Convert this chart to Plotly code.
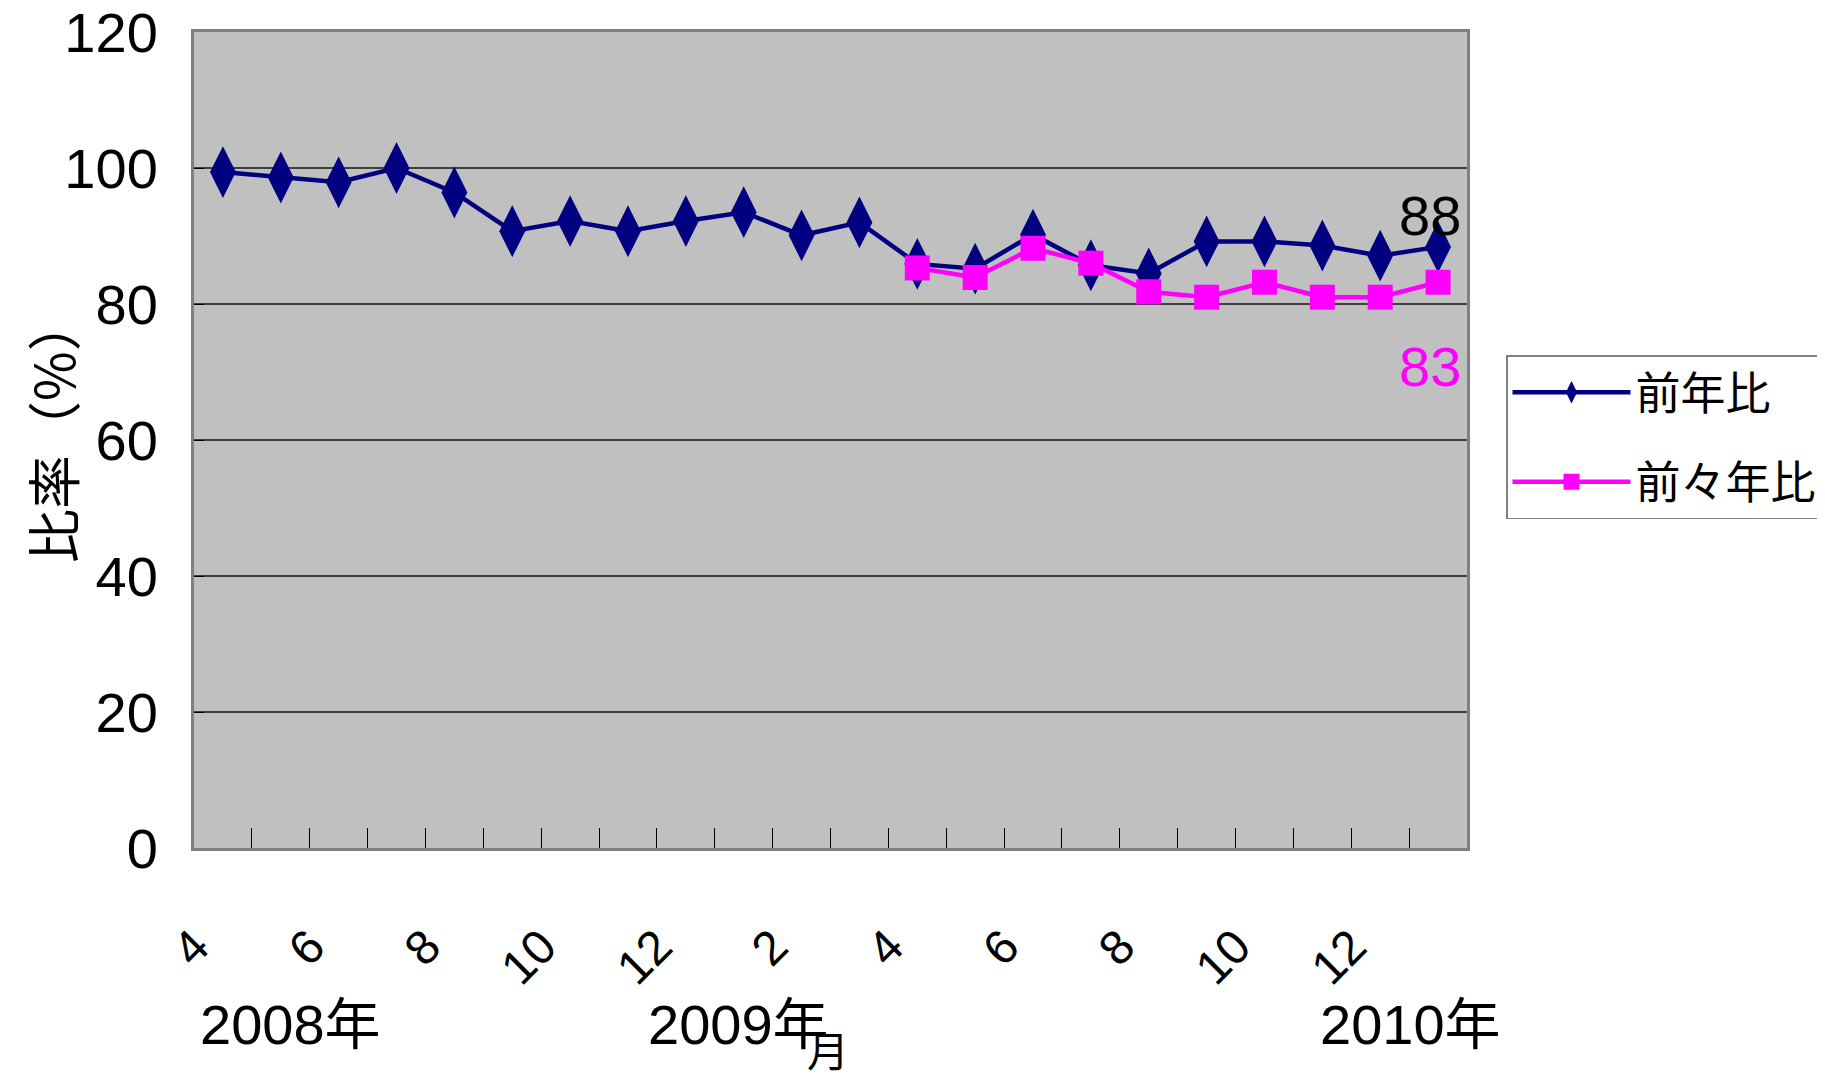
import plotly.graph_objects as go

# ---- data ----
categories = ["2008/4", "2008/5", "2008/6", "2008/7", "2008/8", "2008/9", "2008/10", "2008/11", "2008/12",
              "2009/1", "2009/2", "2009/3", "2009/4", "2009/5", "2009/6", "2009/7", "2009/8", "2009/9",
              "2009/10", "2009/11", "2009/12", "2010/1"]
tick_text = ["4", "", "6", "", "8", "", "10", "", "12", "", "2", "", "4", "", "6", "", "8", "", "10", "", "12", ""]
yoy = [99.4, 98.6, 97.9, 100.0, 96.4, 90.7, 92.2, 90.7, 92.2, 93.5, 90.1, 92.0,
       85.9, 85.2, 90.2, 85.7, 84.5, 89.2, 89.2, 88.6, 87.1, 88.4]
yoy2_cats = categories[12:]
yoy2 = [85.3, 83.9, 88.2, 86.0, 81.8, 81.0, 83.2, 81.0, 81.0, 83.2]
series_names = ["前年比", "前々年比"]
year_labels = ["2008年", "2009年", "2010年"]
y_ticks = [0, 20, 40, 60, 80, 100, 120]
x_title = "月"
y_title = "比率（%）"

NUM = "Liberation Sans, Arial, Noto Sans CJK JP, sans-serif"
CJK = "Noto Sans CJK JP, sans-serif"
NAVY = "#000080"
MAG = "#FF00FF"

fig = go.Figure()
fig.add_trace(go.Scatter(
    x=categories, y=yoy, name=series_names[0], mode="lines+markers",
    line=dict(color=NAVY, width=4.5),
    marker=dict(symbol="diamond-tall", size=37, color=NAVY),
    legendgroup="a",
))
fig.add_trace(go.Scatter(
    x=yoy2_cats, y=yoy2, name=series_names[1], mode="lines+markers",
    line=dict(color=MAG, width=4.5),
    marker=dict(symbol="square", size=25, color=MAG),
    legendgroup="b",
))

# page has an 8px body margin; figure coords = page coords - 8
OFF = 8
W, H = 1809, 1072
L, T = 194 - OFF, 32 - OFF
R = W - (1467 - OFF)
B = H - (848 - OFF)
pw, ph = W - L - R, H - T - B

def px(xp):
    return (xp - OFF - L) / pw

def py(yp):
    return (H - B - (yp - OFF)) / ph

annotations = []
# end value labels
annotations.append(dict(x=categories[-1], y=yoy[-1], xref="x", yref="y", text=f"{round(yoy[-1])}",
                        showarrow=False, xshift=-8, yshift=31,
                        font=dict(family=NUM, size=56, color="black")))
annotations.append(dict(x=yoy2_cats[-1], y=yoy2[-1], xref="x", yref="y", text=f"{round(yoy2[-1])}",
                        showarrow=False, xshift=-8, yshift=-84,
                        font=dict(family=NUM, size=56, color=MAG)))
# year labels
for lbl, cx in zip(year_labels, [290, 738, 1410]):
    annotations.append(dict(x=px(cx), y=py(1025), xref="paper", yref="paper", text=lbl, showarrow=False,
                            xanchor="center", yanchor="middle",
                            font=dict(family=NUM, size=56, color="black")))
# axis titles
annotations.append(dict(x=px(828), y=py(1048), xref="paper", yref="paper", text=x_title, showarrow=False,
                        xanchor="center", yanchor="middle", font=dict(family=CJK, size=42, color="black")))
annotations.append(dict(x=px(51), y=py(430), xref="paper", yref="paper", text=y_title, showarrow=False,
                        textangle=-90, xanchor="center", yanchor="middle",
                        font=dict(family=CJK, size=54, color="black")))

fig.update_layout(
    width=W, height=H,
    margin=dict(l=L, r=R, t=T, b=B, pad=0, autoexpand=False),
    paper_bgcolor="white",
    plot_bgcolor="#C0C0C0",
    showlegend=True,
    legend=dict(
        x=px(1506), y=py(355), xanchor="left", yanchor="top",
        bgcolor="white", bordercolor="#808080", borderwidth=1.5,
        font=dict(family=CJK, size=45, color="black"),
        tracegroupgap=28, itemwidth=118,
    ),
    annotations=annotations,
    xaxis=dict(
        type="category", categoryorder="array", categoryarray=categories,
        tickmode="array", tickvals=categories, ticktext=tick_text,
        tickson="boundaries", ticks="inside", ticklen=20, tickcolor="#000000", tickwidth=1,
        tickangle=-45, ticklabelstandoff=48, ticklabelshift=-28,
        tickfont=dict(family="Liberation Sans, Arial, sans-serif", size=48, color="black"),
        showgrid=False, showline=True, linecolor="#808080", linewidth=3, mirror=True,
        range=[-0.5, len(categories) - 0.5], zeroline=False, automargin=False,
    ),
    yaxis=dict(
        range=[0, 120], tickmode="array", tickvals=y_ticks,
        ticklabeloverflow="allow",
        showgrid=True, gridcolor="#404040", gridwidth=1.5,
        ticks="inside", ticklen=10, tickcolor="#000000",
        ticklabelstandoff=22,
        tickfont=dict(family=NUM, size=56, color="black"),
        showline=True, linecolor="#808080", linewidth=3, mirror=True, zeroline=False, automargin=False,
    ),
)

fig.write_html("out.html")
